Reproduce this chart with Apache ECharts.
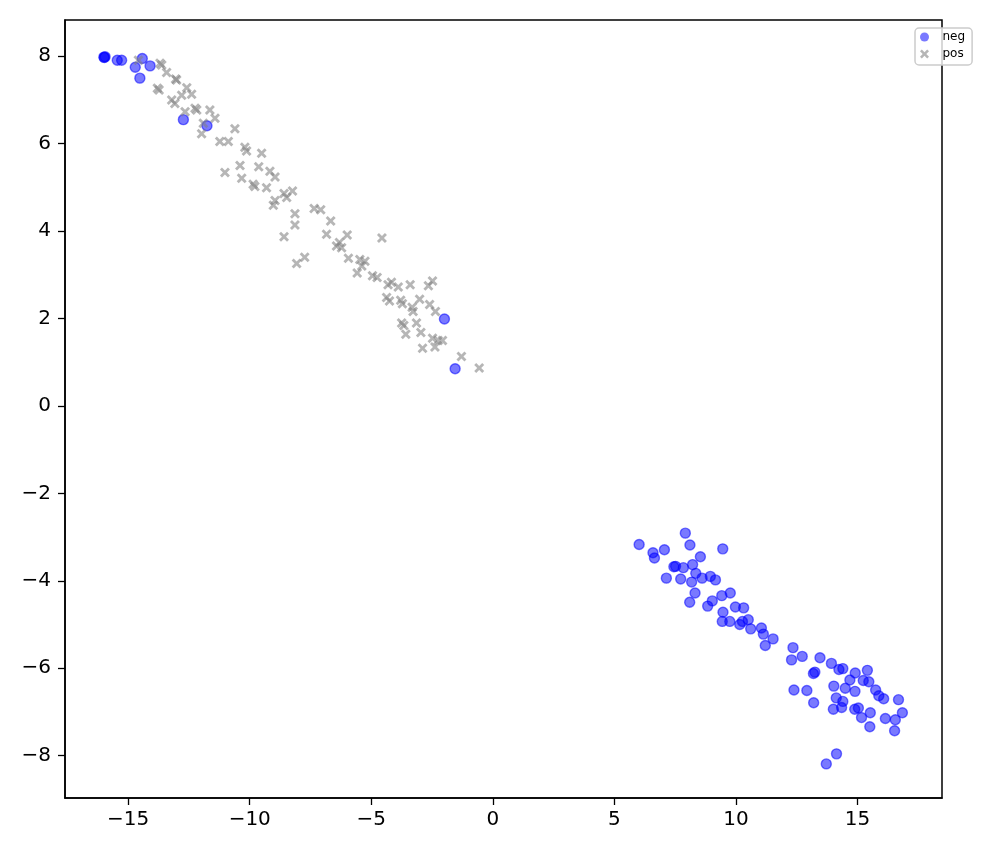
<!DOCTYPE html>
<html>
<head>
<meta charset="utf-8">
<script src="https://cdn.jsdelivr.net/npm/echarts@6/dist/echarts.min.js"></script>
<style>html,body{margin:0;padding:0;background:#fff}#c{width:997px;height:854px}</style>
</head>
<body>
<div id="c"></div>
<script>
// ---- data ----
const negX = [-16.00,-15.95,-15.98,-15.45,-15.27,-14.42,-14.71,-14.10,-14.52,-12.73,-11.76,-1.99,-1.55,
  6.02,7.92,6.59,6.65,7.06,8.11,9.46,8.54,7.45,7.52,7.84,8.22,7.14,7.73,8.18,8.35,8.61,8.95,9.16,
  8.32,8.10,8.84,9.03,9.42,9.77,9.47,9.44,9.75,9.98,10.32,10.16,10.27,10.51,10.61,11.05,11.13,11.53,
  11.21,12.35,12.29,12.73,13.46,13.93,14.24,14.40,14.91,15.41,13.25,13.19,14.69,15.24,15.47,14.03,
  14.50,14.90,15.75,15.88,16.08,16.69,12.39,12.92,13.20,14.13,14.40,14.01,14.35,14.89,15.04,15.17,
  15.53,16.15,16.56,16.85,15.51,16.53,14.14,13.72];
const negY = [7.98,7.99,7.97,7.91,7.91,7.95,7.75,7.78,7.50,6.55,6.41,1.99,0.85,
  -3.17,-2.91,-3.36,-3.48,-3.29,-3.18,-3.27,-3.45,-3.68,-3.67,-3.70,-3.63,-3.94,-3.96,-4.03,-3.83,-3.94,-3.90,-3.98,
  -4.28,-4.49,-4.58,-4.46,-4.34,-4.28,-4.72,-4.93,-4.93,-4.60,-4.62,-5.00,-4.93,-4.89,-5.10,-5.08,-5.22,-5.33,
  -5.48,-5.53,-5.81,-5.73,-5.76,-5.89,-6.03,-6.01,-6.11,-6.05,-6.09,-6.12,-6.27,-6.28,-6.31,-6.41,
  -6.46,-6.53,-6.50,-6.63,-6.70,-6.72,-6.50,-6.51,-6.79,-6.68,-6.76,-6.94,-6.90,-6.94,-6.91,-7.13,
  -7.02,-7.15,-7.18,-7.02,-7.34,-7.43,-7.96,-8.19];

const posX = [-14.58,-13.69,-13.62,-13.42,-13.05,-13.01,-13.80,-13.73,-12.59,-12.39,-12.80,-13.21,-13.08,
  -12.25,-12.18,-12.66,-11.64,-11.43,-11.91,-10.61,-11.98,-11.23,-10.88,-10.20,-10.13,-9.51,-10.40,-9.63,
  -11.02,-10.33,-9.17,-8.96,-9.86,-9.79,-9.31,-8.59,-8.24,-8.48,-8.96,-9.03,-8.14,-8.14,-8.59,-7.35,-7.08,
  -6.67,-6.84,-5.99,-4.56,-6.43,-6.22,-6.31,-8.07,-7.74,-5.94,-5.47,-5.26,-5.39,-5.58,-4.95,-4.76,-4.17,
  -4.31,-3.89,-3.40,-2.65,-2.48,-4.37,-4.25,-3.79,-3.72,-3.01,-3.32,-3.28,-2.60,-2.36,-3.75,-3.66,-3.58,
  -3.14,-2.96,-2.89,-2.48,-2.38,-2.25,-2.07,-1.29,-0.56];
const posY = [7.91,7.84,7.80,7.63,7.48,7.46,7.27,7.23,7.28,7.13,7.11,7.00,6.92,
  6.81,6.77,6.73,6.77,6.58,6.47,6.34,6.23,6.05,6.05,5.92,5.83,5.78,5.50,5.47,
  5.34,5.21,5.37,5.24,5.07,5.02,4.99,4.86,4.92,4.77,4.70,4.59,4.40,4.14,3.87,4.52,4.49,
  4.23,3.93,3.91,3.84,3.66,3.62,3.74,3.26,3.40,3.38,3.35,3.31,3.20,3.04,2.98,2.94,2.83,
  2.77,2.72,2.77,2.75,2.86,2.48,2.40,2.42,2.34,2.44,2.26,2.16,2.32,2.16,1.90,1.84,1.64,
  1.90,1.68,1.32,1.55,1.35,1.50,1.50,1.13,0.87];

const seriesNames = ['neg', 'pos'];
const xTicks = [-15, -10, -5, 0, 5, 10, 15];
const yTicks = [-8, -6, -4, -2, 0, 2, 4, 6, 8];
const xRange = [-17.6, 18.48];
const yRange = [-8.97, 8.83];

// ---- chart ----
const xPath = 'path://M0,2 L2,0 L5,3 L8,0 L10,2 L7,5 L10,8 L8,10 L5,7 L2,10 L0,8 L3,5 Z';
const fmt = v => String(v).replace('-', '\u2212');
const zip = (a, b) => a.map((v, i) => [v, b[i]]);
const blueFill = 'rgba(0,0,255,0.66)';
const greyFill = 'rgba(128,128,128,0.72)';

const chart = echarts.init(document.getElementById('c'), null, {renderer: 'canvas'});
chart.setOption({
  animation: false,
  backgroundColor: '#fff',
  grid: {left: 65, right: 55, top: 20, bottom: 56, show: true, borderColor: '#000', borderWidth: 1.5, backgroundColor: 'transparent'},
  xAxis: {
    type: 'value', min: xRange[0], max: xRange[1],
    splitLine: {show: false},
    axisLine: {show: true, onZero: false, lineStyle: {color: '#000', width: 1.5}},
    axisTick: {show: true, inside: false, length: 7, customValues: xTicks, lineStyle: {color: '#000', width: 1.3}},
    axisLabel: {customValues: xTicks, formatter: fmt, color: '#000', fontSize: 20, fontFamily: 'DejaVu Sans', margin: 12}
  },
  yAxis: {
    type: 'value', min: yRange[0], max: yRange[1],
    splitLine: {show: false},
    axisLine: {show: true, onZero: false, lineStyle: {color: '#000', width: 1.5}},
    axisTick: {show: true, inside: false, length: 7, customValues: yTicks, lineStyle: {color: '#000', width: 1.3}},
    axisLabel: {customValues: yTicks, formatter: fmt, color: '#000', fontSize: 20, fontFamily: 'DejaVu Sans', margin: 14}
  },
  legend: {
    orient: 'vertical', left: 915, top: 28,
    itemWidth: 26, itemHeight: 9, itemGap: 5,
    symbolKeepAspect: true,
    padding: [3, 7, 5, 5],
    borderColor: '#cccccc', borderWidth: 1.5, borderRadius: 4,
    backgroundColor: 'rgba(255,255,255,0.8)',
    textStyle: {fontSize: 12, fontFamily: 'DejaVu Sans', color: '#000'},
    data: [
      {name: seriesNames[0], icon: 'circle', itemStyle: {color: blueFill, borderWidth: 0}},
      {name: seriesNames[1], icon: xPath, itemStyle: {color: greyFill, borderWidth: 0}}
    ]
  },
  series: [
    {
      name: seriesNames[0], type: 'scatter', symbol: 'circle', symbolSize: 10,
      itemStyle: {color: blueFill, borderColor: blueFill, borderWidth: 1.4},
      data: zip(negX, negY)
    },
    {
      name: seriesNames[1], type: 'scatter', symbol: xPath, symbolSize: 10,
      itemStyle: {color: greyFill},
      data: zip(posX, posY)
    }
  ]
});
</script>
</body>
</html>
